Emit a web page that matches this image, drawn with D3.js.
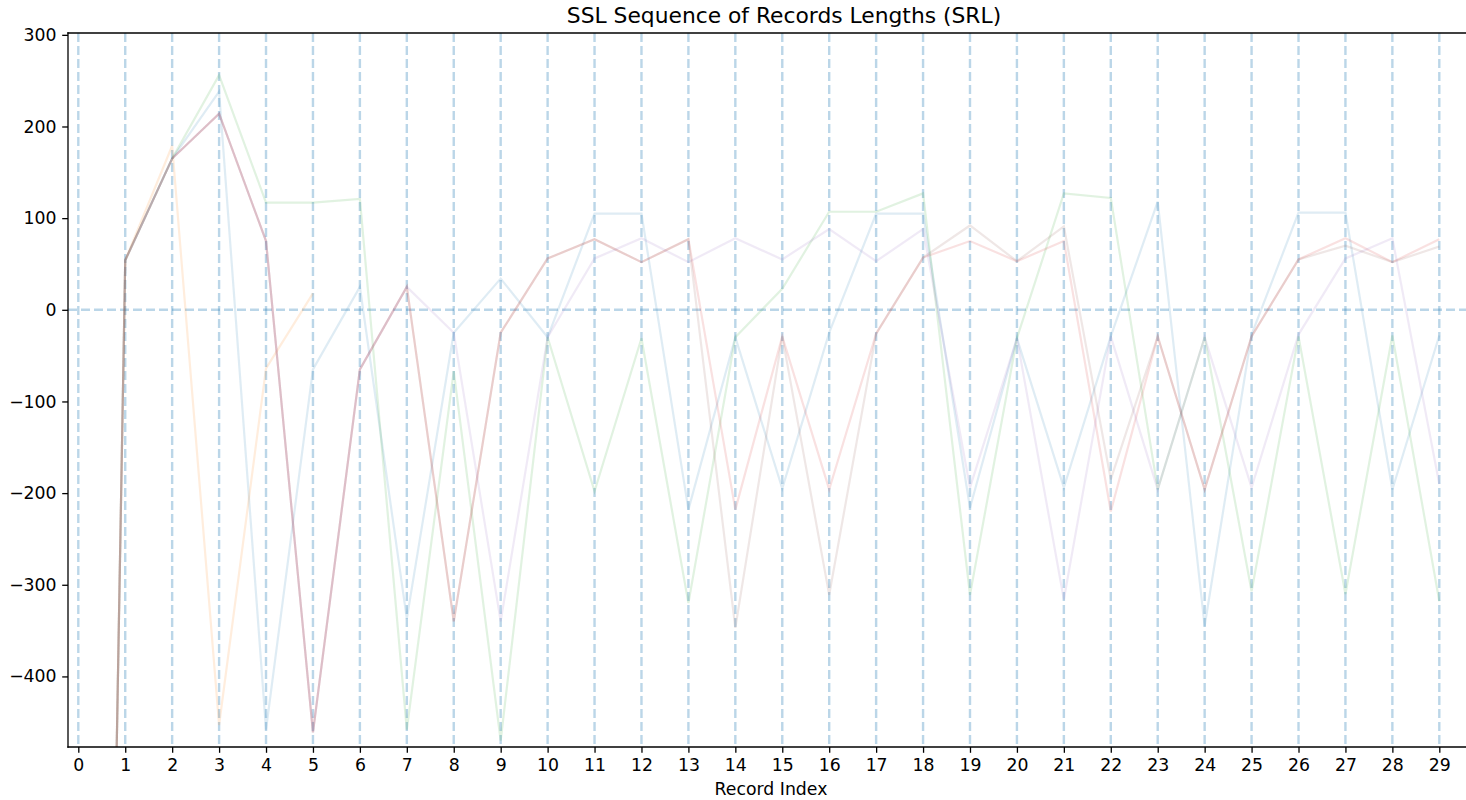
<!DOCTYPE html>
<html><head><meta charset="utf-8">
<script src="https://cdn.jsdelivr.net/npm/d3@7"></script>
<style>body{margin:0;background:#fff;overflow:hidden} text{font-family:"DejaVu Sans",sans-serif;fill:#000}</style>
</head><body><svg id="c" width="1466" height="800"></svg>
<script>
// ---- data ----
const recordIndex = [0,1,2,3,4,5,6,7,8,9,10,11,12,13,14,15,16,17,18,19,20,21,22,23,24,25,26,27,28,29];
const yTicks = [-400,-300,-200,-100,0,100,200,300];
const flowBlue   = [-2870, 54, 165, 238, -458, -65, 25, -337, -25, 34, -30, 105, 105, -218, -30, -195, -25, 105, 105, -216, -31, -194, -29, 118, -345, -27, 106, 106, -196, -28];
const flowOrange = [-2870, 54, 179, -453, -64, 18];
const flowGreen  = [-2870, 54, 165, 256, 117, 117, 121, -458, -67, -470, -30, -198, -31, -320, -30, 23, 107, 107, 127, -311, -31, 127, 122, -196, -30, -307, -29, -310, -28, -318];
const flowRed    = [-2870, 54, 165, 214, 75, -461, -65, 25, -340, -25, 56, 77, 52, 77, -218, -29, -196, -26, 57, 75, 53, 75, -220, -29, -196, -29, 55, 78, 52, 77];
const flowPurple = [-2870, 54, 165, 214, 75, -461, -65, 25, -25, -340, -30, 56, 78, 52, 78, 55, 88, 53, 88, -194, -31, -316, -29, -196, -30, -194, -27, 56, 78, -190];
const flowBrown  = [-2870, 54, 165, 214, 75, -461, -65, 25, -340, -25, 56, 77, 52, 77, -347, -29, -311, -26, 57, 92, 53, 91, -185, -29, -196, -29, 55, 70, 52, 69];

const series = [
  {values: flowBlue,   color: "#1f77b4"},
  {values: flowOrange, color: "#ff7f0e"},
  {values: flowGreen,  color: "#2ca02c"},
  {values: flowRed,    color: "#d62728"},
  {values: flowPurple, color: "#9467bd"},
  {values: flowBrown,  color: "#8c564b"}
];

// ---- layout ----
const L = 68, R = 1500, T = 33, B = 747;
const x = d3.scaleLinear().domain([0, 29]).range([78.3, 1439.3]);
const y = d3.scaleLinear().domain([-477, 302]).range([B, T]);

const svg = d3.select("#c");
svg.append("defs").append("clipPath").attr("id","clip")
  .append("rect").attr("x", L).attr("y", T).attr("width", R - L).attr("height", B - T);

const plot = svg.append("g").attr("clip-path","url(#clip)");

// grid: vertical dashed at each record, horizontal at 0
plot.selectAll("line.vg").data(recordIndex).enter().append("line")
  .attr("x1", d => x(d)).attr("x2", d => x(d)).attr("y1", T).attr("y2", B)
  .attr("stroke", "#1f77b4").attr("stroke-opacity", 0.3).attr("stroke-width", 2.4)
  .attr("stroke-dasharray", "9,4");
plot.append("line")
  .attr("x1", L).attr("x2", R).attr("y1", y(0)).attr("y2", y(0))
  .attr("stroke", "#1f77b4").attr("stroke-opacity", 0.3).attr("stroke-width", 2.4)
  .attr("stroke-dasharray", "9,4");

// lines
const line = d3.line().x((d, i) => x(recordIndex[i])).y(d => y(d));
series.forEach(s => {
  plot.append("path").datum(s.values)
    .attr("d", line).attr("fill", "none")
    .attr("stroke", s.color).attr("stroke-opacity", 0.14)
    .attr("stroke-width", 2.2).attr("stroke-linejoin","miter");
});

// axes
const fs = 17.3;
const xAxis = d3.axisBottom(x).tickValues(recordIndex).tickFormat(d3.format("d")).tickSize(5.8).tickPadding(5.6).tickSizeOuter(0);
const gx = svg.append("g").attr("transform", `translate(0,${B})`).call(xAxis);
gx.select(".domain").remove();
gx.selectAll("line").attr("stroke","#000").attr("stroke-width",1.3);
gx.selectAll("text").attr("font-size", fs).attr("font-family","DejaVu Sans");

const yAxis = d3.axisLeft(y).tickValues(yTicks).tickFormat(d3.format("d")).tickSize(5.8).tickPadding(5.6).tickSizeOuter(0);
const gy = svg.append("g").attr("transform", `translate(${L},0)`).call(yAxis);
gy.select(".domain").remove();
gy.selectAll("line").attr("stroke","#000").attr("stroke-width",1.3);
gy.selectAll("text").attr("font-size", fs).attr("font-family","DejaVu Sans");

// spines
const sp = svg.append("g").attr("stroke","#000").attr("stroke-width",1.3).attr("stroke-linecap","square");
sp.append("line").attr("x1",L).attr("x2",L).attr("y1",T).attr("y2",B);
sp.append("line").attr("x1",L).attr("x2",R).attr("y1",B).attr("y2",B);
sp.append("line").attr("x1",L).attr("x2",R).attr("y1",T).attr("y2",T);

// titles
svg.append("text").attr("x", 784).attr("y", 23).attr("text-anchor","middle")
  .attr("font-size", 21.8).text("SSL Sequence of Records Lengths (SRL)");
svg.append("text").attr("x", 771).attr("y", 795).attr("text-anchor","middle")
  .attr("font-size", fs).text("Record Index");
</script></body></html>
